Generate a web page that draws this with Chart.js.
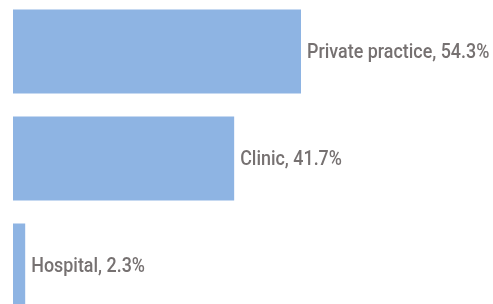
<!DOCTYPE html>
<html><head><meta charset="utf-8">
<script src="https://cdn.jsdelivr.net/npm/chart.js@4/dist/chart.umd.min.js"></script>
<style>
html,body{margin:0;padding:0;background:#fff;overflow:hidden;width:493px;height:304px;}
#wrap{position:absolute;left:0;top:-2px;width:493px;height:321px;}
</style></head><body>
<div id="wrap"><canvas id="c"></canvas></div>
<script>
const categories = ["Private practice", "Clinic", "Hospital"];
const values = [54.3, 41.7, 2.3];

const labelPlugin = {
  id: 'endLabels',
  afterDatasetsDraw(chart) {
    const ctx = chart.ctx;
    const meta = chart.getDatasetMeta(0);
    const sx = 0.895;
    meta.data.forEach((bar, i) => {
      ctx.save();
      ctx.font = '500 20px Roboto, "Liberation Sans", sans-serif';
      ctx.fillStyle = '#767171';
      ctx.textBaseline = 'middle';
      ctx.textAlign = 'left';
      ctx.translate(bar.x + 6, bar.y + 1);
      ctx.scale(sx, 1);
      ctx.fillText(categories[i] + ', ' + values[i].toFixed(1) + '%', 0, 0);
      ctx.restore();
    });
  }
};

new Chart(document.getElementById('c'), {
  type: 'bar',
  data: {
    labels: categories,
    datasets: [{
      data: values,
      backgroundColor: '#8eb4e3',
      borderWidth: 0,
      categoryPercentage: 1,
      barPercentage: 0.785
    }]
  },
  options: {
    indexAxis: 'y',
    responsive: true,
    maintainAspectRatio: false,
    animation: false,
    layout: { padding: { left: 13, right: 0, top: 0, bottom: 0 } },
    plugins: { legend: { display: false }, tooltip: { enabled: false } },
    scales: {
      x: { display: false, min: 0, max: 90.5 },
      y: { display: false }
    }
  },
  plugins: [labelPlugin]
});
</script>
</body></html>
